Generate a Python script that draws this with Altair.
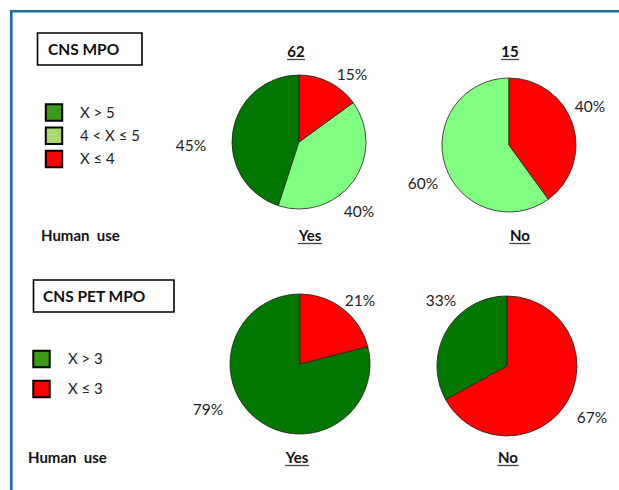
import altair as alt
import pandas as pd

# --- data -------------------------------------------------------------
mpo_categories = ["X > 5", "4 < X ≤ 5", "X ≤ 4"]
mpo_yes = [45, 40, 15]          # human use: yes (n = 62)
mpo_no = [0, 60, 40]            # human use: no  (n = 15)
mpo_counts = ["62", "15"]

pet_categories = ["X > 3", "X ≤ 3"]
pet_yes = [79, 21]
pet_no = [33, 67]

group_labels = ["Yes", "No"]
row_title = "Human\u00a0\u00a0use"

# --- styling ----------------------------------------------------------
FONT = "Lato"
PIE_COLORS_MPO = ["#007800", "#80FF80", "#FF0000"]
PIE_COLORS_PET = ["#007800", "#FF0000"]
KEY_COLORS_MPO = ["#3C9A1A", "#A8DA70", "#FF0000"]
KEY_COLORS_PET = ["#3C9A1A", "#FF0000"]
FRAME = "#1B6EA6"


def table(categories, values):
    n = len(categories)
    df = pd.DataFrame({
        "category": categories,
        "value": values,
        # red slice first, clockwise from 12 o'clock
        "rank": [n - i for i in range(n)],
    })
    df["label"] = df["value"].astype(str) + "%"
    return df[df["value"] > 0].reset_index(drop=True)


def pie(df, cx, cy, r, domain, colors):
    return alt.Chart(df).mark_arc(radius=r, stroke="#222222", strokeWidth=0.8).encode(
        theta=alt.Theta("value:Q", stack=True),
        color=alt.Color("category:N", scale=alt.Scale(domain=domain, range=colors), legend=None),
        order=alt.Order("rank:Q", sort="ascending"),
        x=alt.value(cx),
        y=alt.value(cy),
    )


def pct_labels(df, anchors):
    layers = []
    for _, row in df.iterrows():
        x, y = anchors[row["category"]]
        layers.append(
            alt.Chart(pd.DataFrame([row])).mark_text(
                font=FONT, fontSize=15.5, color="#222222", align="center", baseline="middle"
            ).encode(text="label:N", x=alt.value(x), y=alt.value(y))
        )
    return layers


def text(s, x, y, size=15, bold=True, align="left", baseline="alphabetic"):
    return alt.Chart(pd.DataFrame({"t": [s]})).mark_text(
        font=FONT, fontSize=size, fontWeight="bold" if bold else "normal",
        color="#111111", align=align, baseline=baseline,
    ).encode(text="t:N", x=alt.value(x), y=alt.value(y))


def underlined(s, cx, y, width, size=15):
    line = alt.Chart(pd.DataFrame({"t": [s]})).mark_rule(color="#444444", strokeWidth=1.3).encode(
        x=alt.value(cx - width / 2), x2=alt.value(cx + width / 2), y=alt.value(y + 2.5)
    )
    return [text(s, cx, y, size=size, align="center"), line]


def box(x0, y0, x1, y1):
    return alt.Chart(pd.DataFrame({"b": [0]})).mark_rect(
        fill="white", stroke="black", strokeWidth=1.6
    ).encode(x=alt.value(x0), x2=alt.value(x1), y=alt.value(y0), y2=alt.value(y1))


def key(categories, colors, sq_x, txt_x, y_top, y_bottom):
    df = pd.DataFrame({"category": categories})
    yscale = alt.Scale(type="point", domain=categories, range=[y_top, y_bottom], padding=0)
    squares = alt.Chart(df).mark_square(size=270, opacity=1, stroke="black", strokeWidth=2).encode(
        x=alt.value(sq_x),
        y=alt.Y("category:N", scale=yscale, axis=None),
        color=alt.Color("category:N", scale=alt.Scale(domain=categories, range=colors), legend=None),
    )
    labels = alt.Chart(df).mark_text(
        font=FONT, fontSize=15, color="#222222", align="left", baseline="middle"
    ).encode(
        x=alt.value(txt_x),
        y=alt.Y("category:N", scale=yscale, axis=None),
        text="category:N",
    )
    return [squares, labels]


mpo_yes_df = table(mpo_categories, mpo_yes)
mpo_no_df = table(mpo_categories, mpo_no)
pet_yes_df = table(pet_categories, pet_yes)
pet_no_df = table(pet_categories, pet_no)

layers = []

# frame (left and top edges)
frame_df = pd.DataFrame({"f": [0]})
layers.append(alt.Chart(frame_df).mark_rule(color=FRAME, strokeWidth=2.6).encode(
    x=alt.value(11.3), y=alt.value(10), y2=alt.value(490)))
layers.append(alt.Chart(frame_df).mark_rule(color=FRAME, strokeWidth=2.6).encode(
    x=alt.value(10), x2=alt.value(619), y=alt.value(11.3)))

# ---- CNS MPO panel ----
layers.append(box(37.5, 33, 142, 65))
layers.append(text("CNS MPO", 48, 50, size=15.5, baseline="middle"))
layers += key(mpo_categories, KEY_COLORS_MPO, 54, 80, 112.5, 159)

layers.append(pie(mpo_yes_df, 299, 142, 67, mpo_categories, PIE_COLORS_MPO))
layers.append(pie(mpo_no_df, 509, 145, 67, mpo_categories, PIE_COLORS_MPO))
layers += pct_labels(mpo_yes_df, {"X ≤ 4": (352, 75), "4 < X ≤ 5": (359, 212), "X > 5": (191, 146)})
layers += pct_labels(mpo_no_df, {"X ≤ 4": (590, 107), "4 < X ≤ 5": (423, 184)})

layers += underlined(mpo_counts[0], 296, 57, 18)
layers += underlined(mpo_counts[1], 510, 57, 18)
layers.append(text(row_title, 41, 241))
layers += underlined(group_labels[0], 310, 241, 24)
layers += underlined(group_labels[1], 520, 241, 21)

# ---- CNS PET MPO panel ----
layers.append(box(33.5, 280, 174, 312))
layers.append(text("CNS PET MPO", 43, 296.5, size=15.5, baseline="middle"))
layers += key(pet_categories, KEY_COLORS_PET, 41.5, 68, 359, 389)

layers.append(pie(pet_yes_df, 300, 364, 70, pet_categories, PIE_COLORS_PET))
layers.append(pie(pet_no_df, 507, 366, 70, pet_categories, PIE_COLORS_PET))
layers += pct_labels(pet_yes_df, {"X ≤ 3": (360, 301), "X > 3": (208, 410)})
layers += pct_labels(pet_no_df, {"X > 3": (441, 301), "X ≤ 3": (592, 418)})

layers.append(text(row_title, 28, 463))
layers += underlined(group_labels[0], 297, 463, 24)
layers += underlined(group_labels[1], 508, 463, 21)

chart = alt.layer(*layers).resolve_scale(
    theta="independent", color="independent", y="independent", x="independent"
).properties(
    width=619, height=490, padding=0,
    autosize=alt.AutoSizeParams(type="none"),
    background="white",
).configure_view(strokeWidth=0)

chart.save("out.html", embed_options={"renderer": "svg", "actions": False})
